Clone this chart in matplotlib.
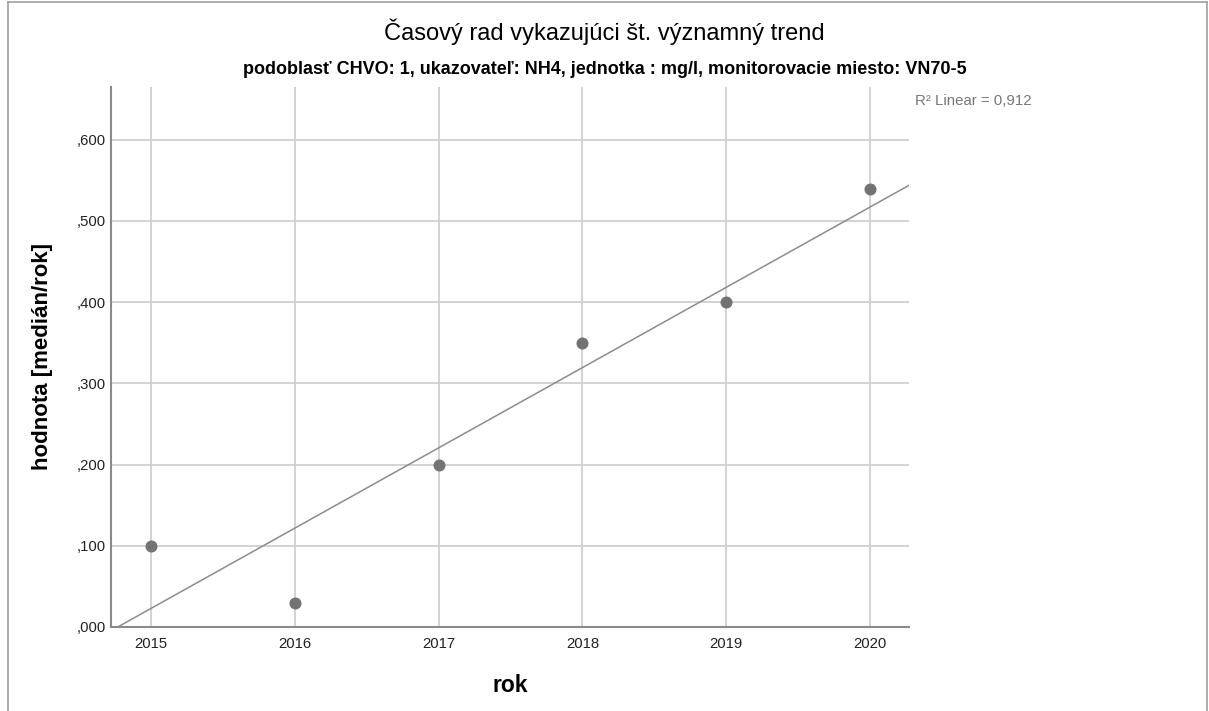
import numpy as np
import matplotlib.pyplot as plt
from matplotlib.lines import Line2D

plt.rcParams["font.family"] = ["Liberation Sans", "DejaVu Sans"]

# ── Data ─────────────────────────────────────────────────────────────────────
years = [2015, 2016, 2017, 2018, 2019, 2020]
values = [0.100, 0.030, 0.200, 0.350, 0.400, 0.540]
y_ticks = [0.0, 0.1, 0.2, 0.3, 0.4, 0.5, 0.6]
r2_text = "R² Linear = 0,912"

# ── Figure ───────────────────────────────────────────────────────────────────
W, H = 1209, 711
fig = plt.figure(figsize=(W / 100, H / 100), dpi=100)
ax = fig.add_axes([111 / W, 1 - 627 / H, (909 - 111) / W, (627 - 87) / H])

# linear fit across whole x range
slope, icpt = np.polyfit(years, values, 1)
xlim = (2014.722, 2020.271)
xs = np.array(xlim)
ax.plot(xs, slope * xs + icpt, color="#8c8c8c", lw=1.1, zorder=2)

ax.scatter(years, values, s=75, color="#737373", zorder=3, linewidths=0)

ax.set_xlim(*xlim)
ax.set_ylim(0, 0.665)
ax.set_xticks(years)
ax.set_yticks(y_ticks)
ax.set_yticklabels([f"{v:.3f}".lstrip("0").replace(".", ",") for v in y_ticks])
ax.tick_params(length=0, labelsize=10.7, colors="#222222")
ax.tick_params(axis="y", pad=4)
ax.tick_params(axis="x", pad=7)
ax.grid(True, color="#d0d0d0", lw=1.3)
ax.set_axisbelow(True)

for side in ("top", "right"):
    ax.spines[side].set_visible(False)
for side in ("left", "bottom"):
    ax.spines[side].set_color("#8a8a8a")
    ax.spines[side].set_linewidth(1.5)

fig.text(510 / W, 1 - 686 / H, "rok", ha="center", va="center",
         fontsize=16.5, fontweight="bold")
fig.text(43 / W, 1 - 357 / H, "hodnota [medián/rok]", ha="center", va="center",
         rotation=90, fontsize=16, fontweight="bold")

fig.text(0.5, 1 - 32 / H, "Časový rad vykazujúci št. významný trend",
         ha="center", va="center", fontsize=17)
fig.text(0.5, 1 - 69 / H,
         "podoblasť CHVO: 1, ukazovateľ: NH4, jednotka : mg/l, monitorovacie miesto: VN70-5",
         ha="center", va="center", fontsize=13, fontweight="bold")
fig.text(915 / W, 1 - 101 / H, r2_text, ha="left", va="center",
         fontsize=10.8, color="#777777")

# outer frame
for xd, yd in [((8 / W, 1207 / W), (1 - 2 / H, 1 - 2 / H)),
               ((8 / W, 8 / W), (0, 1 - 2 / H)),
               ((1207 / W, 1207 / W), (0, 1 - 2 / H))]:
    fig.add_artist(Line2D(xd, yd, color="#a0a0a0", lw=1.2))

fig.savefig("out.png", dpi=100)
